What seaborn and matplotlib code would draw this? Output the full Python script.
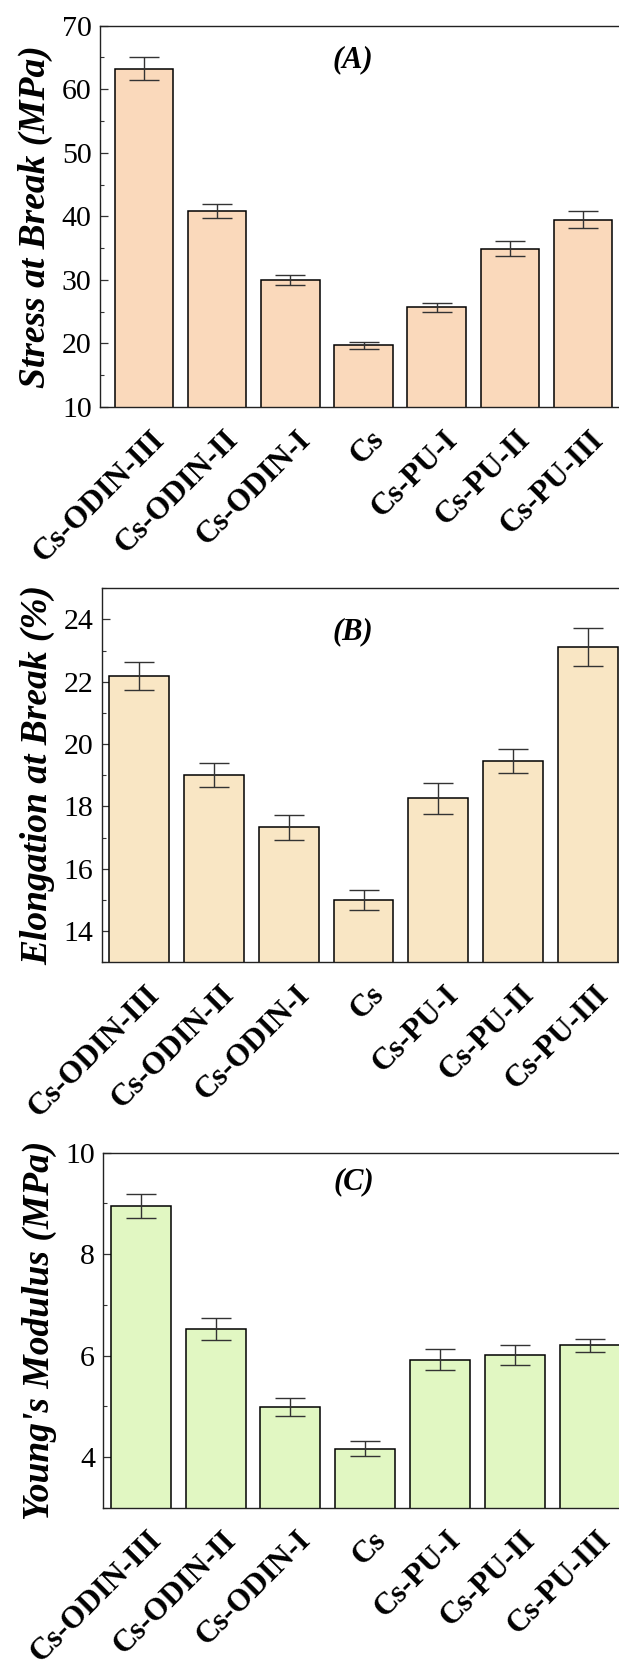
import matplotlib
matplotlib.use("Agg")
import matplotlib.pyplot as plt
import matplotlib.transforms as mtransforms
from matplotlib import font_manager
from matplotlib.ticker import MultipleLocator
import seaborn as sns
import pandas as pd

categories = ["Cs-ODIN-III", "Cs-ODIN-II", "Cs-ODIN-I", "Cs", "Cs-PU-I", "Cs-PU-II", "Cs-PU-III"]
stress = [63.2, 40.8, 30.0, 19.7, 25.7, 34.9, 39.5]
stress_err = [1.8, 1.1, 0.8, 0.6, 0.7, 1.2, 1.4]
elong = [22.2, 19.0, 17.34, 15.0, 18.26, 19.46, 23.12]
elong_err = [0.45, 0.38, 0.40, 0.32, 0.50, 0.39, 0.62]
modulus = [8.95, 6.53, 4.98, 4.16, 5.92, 6.01, 6.20]
modulus_err = [0.24, 0.22, 0.18, 0.15, 0.21, 0.19, 0.13]

sns.set_theme(style="ticks")
installed = {f.name for f in font_manager.fontManager.ttflist}
serif_pref = [n for n in ["Liberation Serif", "Times New Roman", "STIXGeneral"] if n in installed]
plt.rcParams["font.family"] = serif_pref + ["DejaVu Serif"]
plt.rcParams["text.color"] = "black"
plt.rcParams["axes.labelcolor"] = "black"
plt.rcParams["xtick.color"] = "black"
plt.rcParams["ytick.color"] = "black"

W, H = 619, 1675
fig = plt.figure(figsize=(W / 100, H / 100), dpi=100)

def rect(left, top, right, bottom):
    return [left / W, 1 - bottom / H, (right - left) / W, (bottom - top) / H]

panels = [
    dict(vals=stress, errs=stress_err, color="#FAD9BB", rect=rect(100, 25.7, 627, 407),
         xlim=(-0.6, 6.6), ylim=(10, 70), major=10, minor=5,
         ylabel="Stress at Break (MPa)", tag="(A)", tagpos=(0.48, 0.91)),
    dict(vals=elong, errs=elong_err, color="#F9E6C4", rect=rect(101.5, 588.3, 625.6, 962.3),
         xlim=(-0.5, 6.5), ylim=(13, 25), major=2, minor=1,
         ylabel="Elongation at Break (%)", tag="(B)", tagpos=(0.48, 0.884)),
    dict(vals=modulus, errs=modulus_err, color="#E1F7C2", rect=rect(103.4, 1152.7, 627, 1507.7),
         xlim=(-0.5, 6.5), ylim=(3, 10), major=2, minor=1,
         ylabel="Young's Modulus (MPa)", tag="(C)", tagpos=(0.479, 0.918)),
]

for p in panels:
    ax = fig.add_axes(p["rect"])
    df = pd.DataFrame({"cat": categories, "val": p["vals"]})
    sns.barplot(data=df, x="cat", y="val", ax=ax, color=p["color"], saturation=1,
                width=0.8, edgecolor="black", linewidth=1.1, errorbar=None)
    ax.errorbar(x=list(range(len(categories))), y=p["vals"], yerr=p["errs"], fmt="none",
                ecolor="#333333", elinewidth=1.0, capsize=10.5, capthick=1.0, zorder=5)
    ax.set_xlim(*p["xlim"])
    ax.set_ylim(*p["ylim"])
    ax.yaxis.set_major_locator(MultipleLocator(p["major"]))
    ax.yaxis.set_minor_locator(MultipleLocator(p["minor"]))
    ax.set_xlabel("")
    ax.set_ylabel(p["ylabel"], fontsize=27, fontweight="bold", fontstyle="italic", labelpad=6)
    ax.tick_params(axis="y", which="major", direction="in", length=6, width=0.9,
                   labelsize=21.5, pad=6, color="#333333", labelcolor="black")
    ax.tick_params(axis="y", which="minor", direction="in", length=3, width=0.8, color="#333333")
    ax.tick_params(axis="x", which="major", direction="in", length=6, width=0.9,
                   pad=13, color="#333333", labelcolor="black")
    ax.set_xticks(range(len(categories)))
    ax.set_xticklabels(categories, rotation=45, ha="right", va="top",
                       rotation_mode="anchor", fontsize=22.5, fontweight="bold")
    offset = mtransforms.ScaledTranslation(6 / 100, 0, fig.dpi_scale_trans)
    for lbl in ax.get_xticklabels():
        lbl.set_transform(lbl.get_transform() + offset)
    for s in ax.spines.values():
        s.set_linewidth(1.0)
        s.set_color("#222222")
    ax.text(p["tagpos"][0], p["tagpos"][1], p["tag"], transform=ax.transAxes,
            ha="center", va="center", fontsize=22, fontweight="bold", fontstyle="italic")

fig.savefig("out.png", dpi=100)
